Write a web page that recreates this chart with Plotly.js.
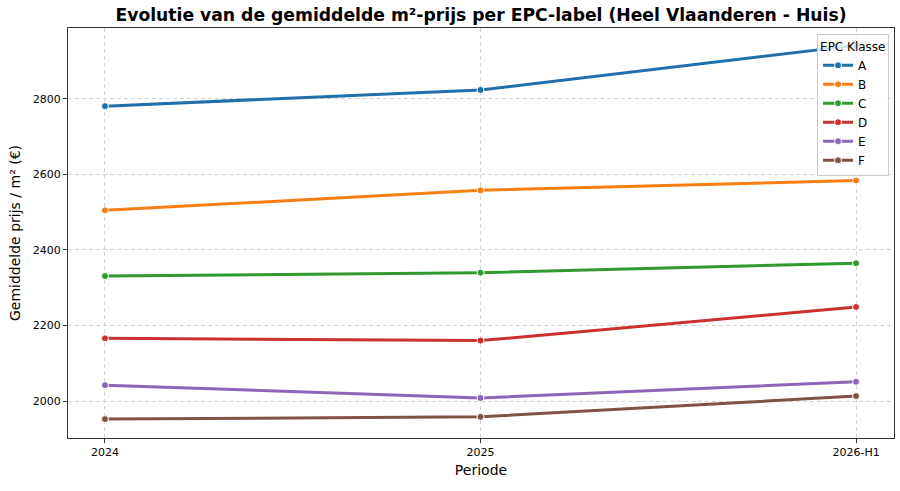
<!DOCTYPE html>
<html>
<head>
<meta charset="utf-8">
<script src="https://cdn.plot.ly/plotly-3.0.1.min.js"></script>
<style>html,body{margin:0;padding:0;background:#fff;}#chart{width:900px;height:491px;}</style>
</head>
<body>
<div id="chart"></div>
<script>
const periods = ["2024", "2025", "2026-H1"];
const labels = ["A", "B", "C", "D", "E", "F"];
const valuesA = [2781, 2824, 2942];
const valuesB = [2505, 2558, 2584];
const valuesC = [2331, 2340, 2365];
const valuesD = [2166, 2160, 2249];
const valuesE = [2042, 2008, 2051];
const valuesF = [1952, 1958, 2013];
const colors = ["#1f6fab", "#f97f14", "#2f9a2f", "#c9302f", "#8c66b8", "#7f5247"];
const series = [valuesA, valuesB, valuesC, valuesD, valuesE, valuesF];

const traces = series.map((vals, i) => ({
  x: periods,
  y: vals,
  name: labels[i],
  type: "scatter",
  mode: "lines+markers",
  line: {color: colors[i], width: 3},
  marker: {color: colors[i], size: 7, line: {color: "#fff", width: 1}}
}));

const font = "DejaVu Sans, sans-serif";
const layout = {
  width: 900, height: 491,
  margin: {l: 68, r: 6, t: 28, b: 53},
  paper_bgcolor: "#fff", plot_bgcolor: "#fff",
  font: {family: font, color: "#000"},
  title: {text: "<b>Evolutie van de gemiddelde m²-prijs per EPC-label (Heel Vlaanderen - Huis)</b>",
    font: {size: 17.2, family: font, color: "#000"}, xref: "paper", x: 0.5, xanchor: "center", y: 0.982, yanchor: "top"},
  xaxis: {
    type: "category", range: [-0.0985, 2.101],
    title: {text: "Periode", font: {size: 14, family: font}, standoff: 6},
    showgrid: true, gridcolor: "#d3d3d3", griddash: "4px,3px", gridwidth: 1,
    showline: true, linecolor: "#333", linewidth: 1, mirror: true,
    ticks: "outside", ticklen: 4, tickcolor: "#333",
    tickfont: {size: 11, family: font}, zeroline: false
  },
  yaxis: {
    range: [1902, 2988],
    tickvals: [2000, 2200, 2400, 2600, 2800],
    title: {text: "Gemiddelde prijs / m² (€)", font: {size: 14, family: font}, standoff: 8},
    showgrid: true, gridcolor: "#d3d3d3", griddash: "4px,3px", gridwidth: 1,
    showline: true, linecolor: "#333", linewidth: 1, mirror: true,
    ticks: "outside", ticklen: 4, tickcolor: "#333",
    tickfont: {size: 11, family: font}, zeroline: false
  },
  legend: {
    x: 0.994, xanchor: "right", y: 0.985, yanchor: "top",
    bgcolor: "rgba(255,255,255,0.8)", bordercolor: "#cccccc", borderwidth: 1,
    title: {text: "EPC Klasse", font: {size: 12, family: font}},
    font: {size: 12, family: font}, itemwidth: 30, tracegroupgap: 0
  },
  showlegend: true
};

Plotly.newPlot("chart", traces, layout, {displayModeBar: false, staticPlot: true});
</script>
</body>
</html>
